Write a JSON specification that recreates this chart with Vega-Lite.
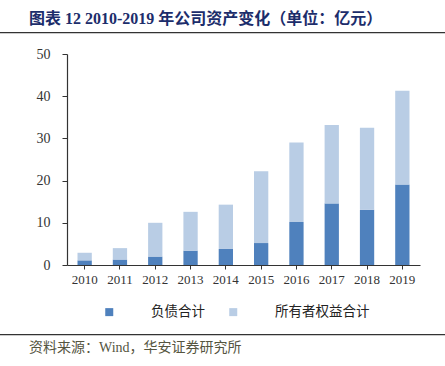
{
  "$schema": "https://vega.github.io/schema/vega-lite/v6.json",
  "background": "white",
  "padding": {"top": 11, "left": 0, "right": 0, "bottom": 0},
  "spacing": 13,
  "resolve": {"scale": {"color": "independent"}, "legend": {"color": "independent"}},
  "config": {
    "view": {"stroke": null},
    "font": "Liberation Serif, Noto Sans CJK SC"
  },
  "vconcat": [
    {
      "width": 445,
      "height": 1.2,
      "view": {"stroke": null, "fill": "#333333"},
      "title": {
        "text": "图表 12 2010-2019 年公司资产变化（单位：亿元）",
        "anchor": "start",
        "dx": 29,
        "offset": 5,
        "font": "Liberation Serif, Noto Sans CJK SC",
        "fontSize": 16,
        "fontWeight": "bold",
        "color": "#1c2d6b"
      },
      "data": {"values": []},
      "mark": {"type": "point", "opacity": 0}
    },
    {
      "width": 420,
      "height": 211,
      "data": {
        "values": [
          {"year": "2010", "series": "负债合计", "value": 1.1},
          {"year": "2010", "series": "所有者权益合计", "value": 1.8},
          {"year": "2011", "series": "负债合计", "value": 1.3},
          {"year": "2011", "series": "所有者权益合计", "value": 2.7},
          {"year": "2012", "series": "负债合计", "value": 2.0},
          {"year": "2012", "series": "所有者权益合计", "value": 8.0},
          {"year": "2013", "series": "负债合计", "value": 3.4},
          {"year": "2013", "series": "所有者权益合计", "value": 9.2},
          {"year": "2014", "series": "负债合计", "value": 3.8},
          {"year": "2014", "series": "所有者权益合计", "value": 10.5},
          {"year": "2015", "series": "负债合计", "value": 5.2},
          {"year": "2015", "series": "所有者权益合计", "value": 17.0},
          {"year": "2016", "series": "负债合计", "value": 10.2},
          {"year": "2016", "series": "所有者权益合计", "value": 18.8},
          {"year": "2017", "series": "负债合计", "value": 14.6},
          {"year": "2017", "series": "所有者权益合计", "value": 18.6},
          {"year": "2018", "series": "负债合计", "value": 13.1},
          {"year": "2018", "series": "所有者权益合计", "value": 19.4},
          {"year": "2019", "series": "负债合计", "value": 19.1},
          {"year": "2019", "series": "所有者权益合计", "value": 22.2}
        ]
      },
      "mark": {"type": "bar"},
      "encoding": {
        "x": {
          "field": "year",
          "type": "ordinal",
          "scale": {"range": [67, 420], "paddingInner": 0.595, "paddingOuter": 0.2975},
          "axis": {
            "title": null,
            "labelAngle": 0,
            "labelFont": "Liberation Serif",
            "labelFontSize": 13,
            "labelColor": "#333333",
            "labelPadding": 4,
            "tickSize": 4,
            "tickColor": "#333333",
            "domainColor": "#333333",
            "domainWidth": 1.2
          }
        },
        "y": {
          "field": "value",
          "type": "quantitative",
          "stack": "zero",
          "scale": {"domain": [0, 50], "nice": false},
          "axis": {
            "title": null,
            "offset": -67,
            "values": [0, 10, 20, 30, 40, 50],
            "grid": false,
            "labelFont": "Liberation Serif",
            "labelFontSize": 14,
            "labelColor": "#333333",
            "labelPadding": 12,
            "tickSize": 5,
            "tickColor": "#333333",
            "domainColor": "#333333",
            "domainWidth": 1.2
          }
        },
        "color": {
          "field": "series",
          "type": "nominal",
          "scale": {
            "domain": ["负债合计", "所有者权益合计"],
            "range": ["#4f81bd", "#b9cde5"]
          },
          "legend": {
            "title": null,
            "orient": "none",
            "legendX": 101,
            "legendY": 249.5,
            "padding": 1.5,
            "direction": "horizontal",
            "symbolType": "square",
            "symbolSize": 64,
            "symbolStrokeWidth": 0,
            "labelFont": "Noto Sans CJK SC",
            "labelFontSize": 13.5,
            "labelColor": "#222222",
            "labelOffset": 35,
            "columnPadding": 21
          }
        },
        "order": {"field": "series", "sort": "descending"}
      }
    },
    {
      "width": 445,
      "height": 1.2,
      "view": {"stroke": null, "fill": "#333333"},
      "title": {
        "text": "资料来源：Wind，华安证券研究所",
        "orient": "bottom",
        "anchor": "start",
        "dx": 29,
        "offset": 6,
        "font": "Liberation Serif, Noto Sans CJK SC",
        "fontSize": 14,
        "fontWeight": "normal",
        "color": "#55553f"
      },
      "data": {"values": []},
      "mark": {"type": "point", "opacity": 0}
    }
  ]
}
